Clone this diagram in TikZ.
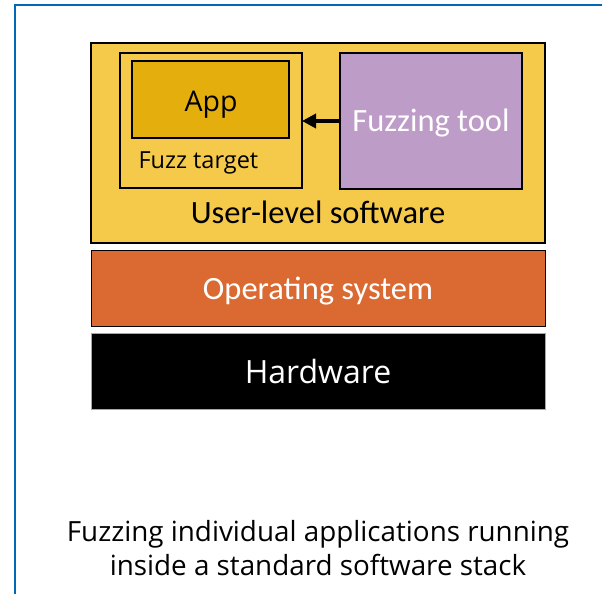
\documentclass[tikz,border=0pt]{standalone}
\usepackage{fontspec}
\setmainfont{Carlito}
\newfontfamily\labelfont{Open Sans}
\usetikzlibrary{arrows.meta}
\definecolor{frameblue}{HTML}{0068B5}
\definecolor{userlevel}{HTML}{F5CA4B}
\definecolor{appfill}{HTML}{E4AF0C}
\definecolor{toolfill}{HTML}{BE9CC8}
\definecolor{osfill}{HTML}{DB6A32}
\tikzset{
  layer/.style={draw=black, line width=1.5pt, inner sep=0pt},
  boxtext/.style={font=\fontsize{32.5}{38}\selectfont}
}
\begin{document}
\begin{tikzpicture}[x=1pt, y=-1pt]
\useasboundingbox (0,0) rectangle (602,594);
% outer frame (open to the right and bottom)
\draw[frameblue, line width=2pt] (15,594) -- (15,5) -- (602,5);

% software stack layers
\draw[layer, fill=userlevel] (91,43) rectangle (545,243);
\node[boxtext, anchor=base] (user) at (318,223) {User-level software};

\draw[layer, fill=osfill, line width=1pt] (91,250) rectangle (545,326);
\node[boxtext, text=white, anchor=base] (os) at (318,299) {Operating system};

\fill[black] (91,333) rectangle (545,409);
\draw[gray!70, line width=0.8pt] (91,333) rectangle (545,409);
\node[font=\labelfont\fontsize{32}{38}\selectfont, text=white, anchor=base] (hw) at (318,383) {Hardware};

% fuzz target with the application inside
\draw[layer, line width=2pt] (120,53) rectangle (302,188);
\coordinate (target) at (302,121);
\draw[layer, fill=appfill] (132,61) rectangle (289,138);
\node[font=\labelfont\fontsize{28.5}{33}\selectfont, anchor=base] (app) at (211,111) {App};
\node[font=\labelfont\fontsize{23.5}{28}\selectfont, anchor=base west] (ft) at (135,168) {Fuzz target};

% fuzzing tool
\draw[layer, fill=toolfill] (340,53) rectangle (522,189);
\coordinate (tool) at (340,121);
\node[boxtext, text=white, anchor=base] (fz) at (431,131) {Fuzzing tool};
\draw[line width=3.5pt, -{Triangle[length=14pt, width=14pt]}] (tool) -- (target);

% caption
\node[font=\labelfont\fontsize{27.8}{34}\selectfont, align=center, anchor=base] (cap) at (318,575)
  {Fuzzing individual applications running\\inside a standard software stack};
\end{tikzpicture}
\end{document}
